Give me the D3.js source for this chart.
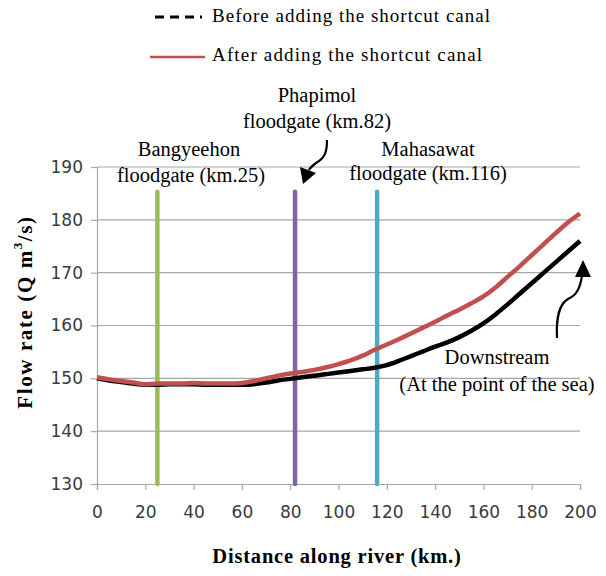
<!DOCTYPE html>
<html>
<head>
<meta charset="utf-8">
<script src="https://cdn.jsdelivr.net/npm/d3@7"></script>
<style>
  body { margin: 0; background: #fff; }
  svg { display: block; }
</style>
</head>
<body>
<div id="chart"></div>
<script>
// data
const distance = [0, 5, 10, 15, 20, 25, 30, 35, 40, 45, 50, 55, 60, 65, 70, 75, 80, 85, 90, 95, 100,
  105, 110, 115, 120, 125, 130, 135, 140, 145, 150, 155, 160, 165, 170, 175, 180, 185, 190, 195, 200];
const flowBefore = [150.0, 149.6, 149.3, 149.0, 148.8, 148.8, 148.9, 148.9, 148.9, 148.8, 148.8, 148.8, 148.8, 148.9, 149.2, 149.6, 149.9, 150.2, 150.5, 150.8, 151.1,
  151.4, 151.7, 152.0, 152.5, 153.3, 154.2, 155.1, 156.0, 156.8, 157.8, 159.0, 160.4, 162.1, 164.0, 166.0, 168.0, 170.0, 172.0, 174.0, 176.0];
const flowAfter = [150.2, 149.8, 149.5, 149.2, 148.9, 149.0, 149.0, 149.0, 149.1, 149.0, 149.0, 149.0, 149.1, 149.5, 150.0, 150.5, 150.9, 151.2, 151.6, 152.1, 152.7,
  153.4, 154.3, 155.4, 156.4, 157.4, 158.5, 159.6, 160.7, 161.9, 163.0, 164.2, 165.5, 167.2, 169.2, 171.2, 173.3, 175.4, 177.5, 179.5, 181.2];

const gateKm = [25, 82, 116];
const gateNames = ["Bangyeehon", "Phapimol", "Mahasawat"];
const gateColors = ["#9bbb59", "#8064a2", "#4bacc6"];
const gateTop = 185.3;

const xTicks = [0, 20, 40, 60, 80, 100, 120, 140, 160, 180, 200];
const yTicks = [130, 140, 150, 160, 170, 180, 190];
const seriesNames = ["Before adding the shortcut canal", "After adding the shortcut canal"];

const W = 606, H = 576;
const margin = { top: 167, right: 26, bottom: 92, left: 97 },
  width = W - margin.left - margin.right,
  height = H - margin.top - margin.bottom;

const svg = d3.select("#chart").append("svg")
  .attr("width", W).attr("height", H);

const g = svg.append("g")
  .attr("transform", "translate(" + margin.left + "," + margin.top + ")");

const x = d3.scaleLinear().domain([0, 200]).range([0, width]);
const y = d3.scaleLinear().domain([130, 190]).range([height, 0]);

const serif = "'Liberation Serif', 'Times New Roman', serif";
const tickFont = "'DejaVu Sans', sans-serif";

// gridlines
g.append("g")
  .selectAll("line")
  .data(yTicks.filter(d => d > 130))
  .enter().append("line")
  .attr("x1", 0).attr("x2", width)
  .attr("y1", d => y(d)).attr("y2", d => y(d))
  .attr("stroke", "#a6a6a6").attr("stroke-width", 1.2);

// axes
const yAxis = g.append("g")
  .call(d3.axisLeft(y).tickValues(yTicks).tickSize(6).tickPadding(8).tickFormat(d3.format("d")));
const xAxis = g.append("g")
  .attr("transform", "translate(0," + height + ")")
  .call(d3.axisBottom(x).tickValues(xTicks).tickSize(6).tickPadding(16).tickFormat(d3.format("d")));

[xAxis, yAxis].forEach(a => {
  a.select(".domain").attr("stroke", "#a6a6a6").attr("stroke-width", 1.2);
  a.selectAll(".tick line").attr("stroke", "#a6a6a6").attr("stroke-width", 1.2);
  a.selectAll("text").attr("font-family", tickFont).attr("font-size", 17).attr("fill", "#3a3a3a");
});

// floodgate lines
g.append("g")
  .selectAll("line")
  .data(gateKm)
  .enter().append("line")
  .attr("x1", d => x(d)).attr("x2", d => x(d))
  .attr("y1", y(130)).attr("y2", y(gateTop))
  .attr("stroke", (d, i) => gateColors[i])
  .attr("stroke-width", 4.5)
  .attr("stroke-linecap", "round");

// flow lines
const line = d3.line()
  .x((d, i) => x(distance[i]))
  .y(d => y(d))
  .curve(d3.curveMonotoneX);

g.append("path")
  .datum(flowBefore)
  .attr("d", line)
  .attr("fill", "none")
  .attr("stroke", "#000")
  .attr("stroke-width", 4.5);

g.append("path")
  .datum(flowAfter)
  .attr("d", line)
  .attr("fill", "none")
  .attr("stroke", "#c0504d")
  .attr("stroke-width", 4.5);

// axis titles
svg.append("text")
  .attr("x", 337).attr("y", 558)
  .attr("text-anchor", "middle").attr("dominant-baseline", "middle")
  .attr("font-family", serif).attr("font-weight", "bold").attr("font-size", 20.5)
  .attr("letter-spacing", 0.8)
  .text("Distance along river (km.)");

const yt = svg.append("text")
  .attr("transform", "translate(27,312) rotate(-90)")
  .attr("text-anchor", "middle").attr("dominant-baseline", "middle")
  .attr("font-family", serif).attr("font-weight", "bold").attr("font-size", 21)
  .attr("letter-spacing", 1.6);
yt.append("tspan").text("Flow rate (Q m");
yt.append("tspan").attr("font-size", 13).attr("dy", -8).text("3");
yt.append("tspan").attr("dy", 8).text("/s)");

// legend
const legend = svg.append("g");
legend.append("line")
  .attr("x1", 155).attr("x2", 202).attr("y1", 17).attr("y2", 17)
  .attr("stroke", "#000").attr("stroke-width", 3).attr("stroke-dasharray", "9,6");
legend.append("line")
  .attr("x1", 150).attr("x2", 205).attr("y1", 57).attr("y2", 57)
  .attr("stroke", "#c0504d").attr("stroke-width", 2.5);
legend.selectAll("text")
  .data(seriesNames)
  .enter().append("text")
  .attr("x", 212)
  .attr("y", (d, i) => i === 0 ? 18 : 57)
  .attr("dominant-baseline", "middle")
  .attr("font-family", serif).attr("font-size", 19)
  .attr("textLength", (d, i) => i === 0 ? 278 : 270)
  .attr("lengthAdjust", "spacing")
  .text(d => d);

// annotations
const note = (cx, cy, txt) => svg.append("text")
  .attr("x", cx).attr("y", cy)
  .attr("text-anchor", "middle").attr("dominant-baseline", "middle")
  .attr("font-family", serif).attr("font-size", 20.5)
  .text(txt);

note(189, 151, gateNames[0]);
note(191, 177, "floodgate (km." + gateKm[0] + ")");
note(317, 97, gateNames[1]);
note(317, 123, "floodgate (km." + gateKm[1] + ")");
note(428, 151, gateNames[2]);
note(428, 175, "floodgate (km." + gateKm[2] + ")");
note(497, 359, "Downstream");
note(497, 386, "(At the point of the sea)");

// curved arrows
svg.append("path")
  .attr("d", "M327,140 C327,152 325,158 316,163 C312,166 310,168 309,170")
  .attr("fill", "none").attr("stroke", "#000").attr("stroke-width", 2.2);
svg.append("path")
  .attr("d", "M303,184 L300,167 L316,173 Z")
  .attr("fill", "#000");

svg.append("path")
  .attr("d", "M557,338 C556,320 559,304 568,299 C577,295 580,288 582,276")
  .attr("fill", "none").attr("stroke", "#000").attr("stroke-width", 2.2);
svg.append("path")
  .attr("d", "M583,260 L575,277 L591,277 Z")
  .attr("fill", "#000");
</script>
</body>
</html>
